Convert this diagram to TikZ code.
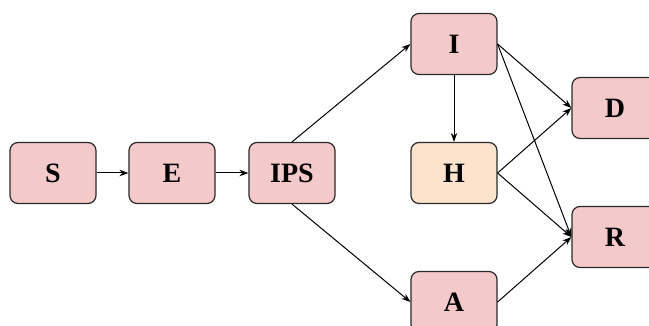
\documentclass[tikz,border=0pt]{standalone}
\usepackage{fontspec}
\setmainfont{Liberation Serif}
\usetikzlibrary{arrows.meta}
\definecolor{boxpink}{HTML}{F4C9CA}
\definecolor{boxpeach}{HTML}{FCE3CB}
\definecolor{edgegray}{HTML}{2A2A2A}
\tikzset{
  state/.style={draw=edgegray, line width=1.2pt, rounded corners=8pt,
    fill=boxpink, minimum width=86pt, minimum height=61pt,
    inner sep=0pt, font=\fontsize{28}{32}\selectfont\bfseries},
  hosp/.style={state, fill=boxpeach},
  flow/.style={-{Stealth[length=9pt,width=6.5pt]}, line width=1pt, black}
}
\begin{document}
\begin{tikzpicture}[x=1pt,y=-1pt]
  \useasboundingbox (0,0) rectangle (649,326);
  \clip (0,0) rectangle (649,326);
  \node[state] (S)   at (53,173)  {S};
  \node[state] (E)   at (172,173) {E};
  \node[state] (IPS) at (292,173) {IPS};
  \node[state] (I)   at (454,44)  {I};
  \node[hosp]  (H)   at (454,173) {H};
  \node[state] (A)   at (454,302) {A};
  \node[state] (D)   at (615,108) {D};
  \node[state] (R)   at (615,237) {R};
  \draw[flow] (S) -- (E);
  \draw[flow] (E) -- (IPS);
  \draw[flow] (IPS.north) -- (I.west);
  \draw[flow] (IPS.south) -- (A.west);
  \draw[flow] (I) -- (H);
  \draw[flow] (I.east) -- (D.west);
  \draw[flow] (I.east) -- (R.west);
  \draw[flow] (H.east) -- (D.west);
  \draw[flow] (H.east) -- (R.west);
  \draw[flow] (A.east) -- (R.west);
\end{tikzpicture}
\end{document}
